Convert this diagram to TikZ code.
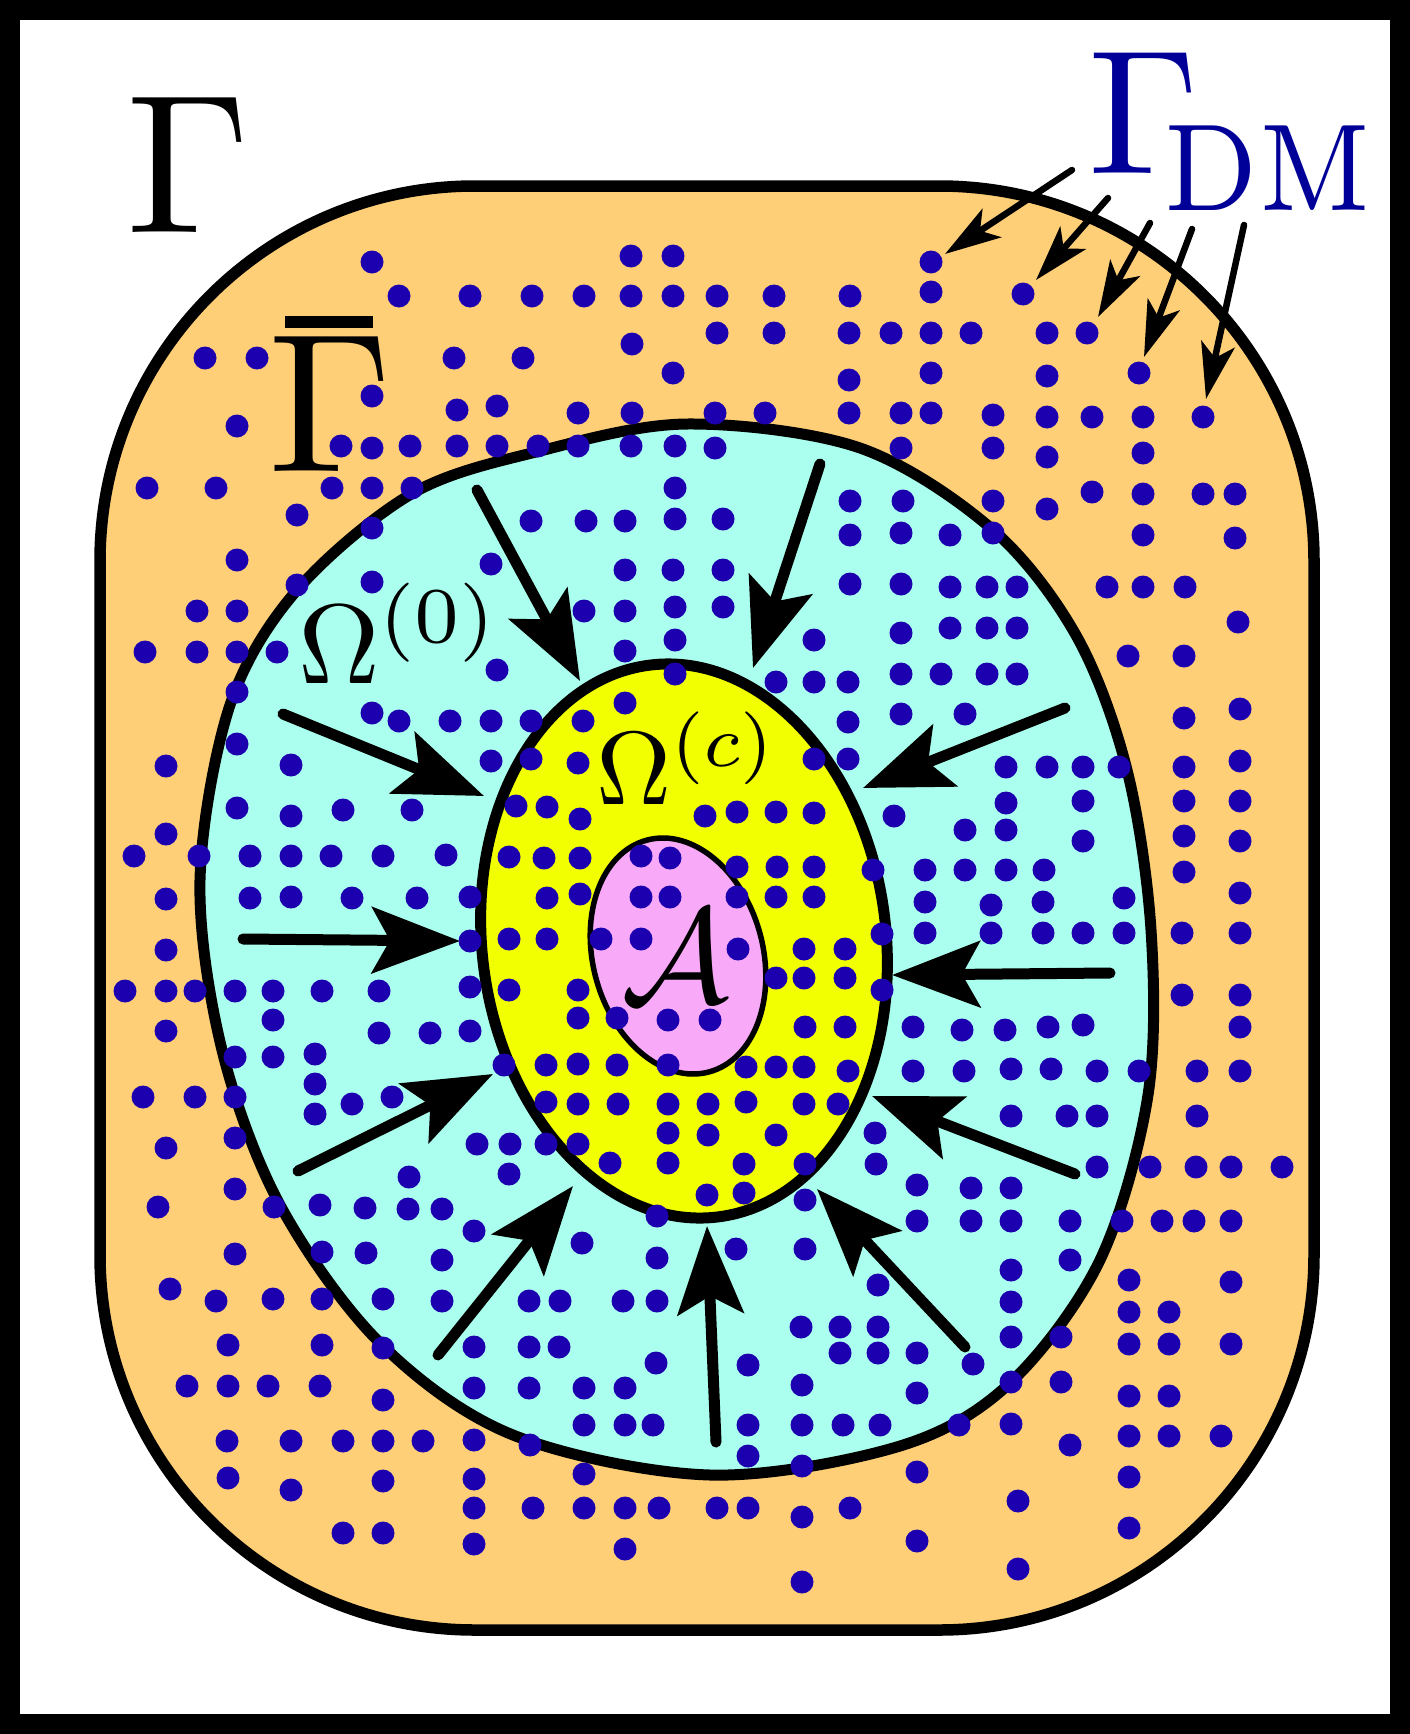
\documentclass[tikz,border=0pt]{standalone}
\usepackage{graphicx}
\usetikzlibrary{arrows.meta}
\definecolor{orangeF}{HTML}{FFCF77}
\definecolor{cyanF}{HTML}{ABFFEE}
\definecolor{yellowF}{HTML}{F2FF00}
\definecolor{pinkF}{HTML}{F8AAF8}
\definecolor{dotc}{HTML}{1C00B0}
\definecolor{dmblue}{HTML}{000099}
\begin{document}
\begin{tikzpicture}[x=1pt,y=-1pt,
  outline/.style={line width=11.5pt, draw=black},
  bigarrow/.style={line width=11pt, line cap=round, -{Stealth[length=88pt,width=66pt,inset=18pt]}},
  dmarrow/.style={line width=6.5pt, line cap=round, -{Stealth[length=56pt,width=34pt,inset=14pt]}},
  lab/.style={inner sep=0pt, outer sep=0pt}]
\useasboundingbox (0,0) rectangle (1410,1734);
\fill[black] (0,0) rectangle (1410,1734);
\fill[white] (20,20) rectangle (1390,1714);
% outer region
\draw[outline, fill=orangeF, rounded corners=375pt] (100,186) rectangle (1314,1630);
% Omega(0)
\draw[outline, line width=11pt, fill=cyanF] plot[smooth cycle, tension=0.55] coordinates {
 (687,424) (860,448) (993,530) (1077,637) (1127,770) (1151,930) (1148,1095)
 (1100,1260) (1010,1383) (900,1446) (710,1475) (513,1435) (380,1343) (280,1205)
 (222,1050) (200,880) (230,705) (297,590) (413,493) (540,451)};
% Omega(c)
\draw[outline, line width=11pt, fill=yellowF, rotate around={7:(684,941)}] (684,941) ellipse [x radius=202pt, y radius=278pt];
% A
\draw[line width=5.5pt, fill=pinkF, rotate around={15:(678,956)}] (678,956) ellipse [x radius=85pt, y radius=120pt];
% inward arrows
\foreach \sx/\sy/\tx/\ty [count=\i] in {477/490/580/681, 820/464/753/668, 1065/708/863/788,
   1110/973/892/975, 1075/1174/872/1096, 965/1347/817/1189, 716/1442/707/1226,
   438/1355/573/1186, 298/1171/493/1074, 243/939/460/941, 283/714/484/796}{
  \coordinate (as\i) at (\sx,\sy);
  \coordinate (at\i) at (\tx,\ty);
  \draw[bigarrow] (as\i) -- (at\i);
}
% Gamma_DM arrows
\foreach \sx/\sy/\tx/\ty [count=\i] in {1072/170/945/254, 1108/198/1036/280, 1150/223/1098/317,
   1192/229/1144/357, 1244/225/1206/399}{
  \coordinate (ds\i) at (\sx,\sy);
  \coordinate (dt\i) at (\tx,\ty);
  \draw[dmarrow] (ds\i) -- (dt\i);
}
% dots
\foreach \x/\y in {
372/262,399/296,205/358,257/358,454/358,372/396,457/410,237/426,341/446,372/448,410/446,457/446,147/488,216/488,332/488,372/488,412/488,297/515,372/528,237/560,
470/296,532/296,584/296,631/256,673/256,631/296,673/296,717/296,774/296,850/296,931/262,931/292,717/333,774/333,849/333,891/333,931/333,523/358,632/344,673/373,849/380,931/373,497/406,578/413,632/413,715/413,765/413,849/413,901/413,931/413,497/446,538/446,578/446,631/446,675/446,715/448,901/448,675/488,850/501,903/501,531/521,586/521,625/521,675/519,723/519,850/535,901/533,491/564,625/570,673/570,723/570,
1023/294,971/333,1047/333,1087/333,1047/376,1139/373,993/415,1047/417,1092/417,1143/417,1203/417,993/448,1047/457,1143/453,993/501,1047/509,1092/492,1143/494,1203/494,1235/494,950/535,993/533,1143/535,1235/538,
297/585,372/582,197/611,237/611,145/652,197/652,237/652,277/652,237/692,237/744,166/766,291/765,372/713,399/721,450/721,237/808,291/816,343/810,412/810,166/834,134/856,199/856,250/856,291/856,331/856,383/856,446/855,166/899,250/898,291/897,352/898,417/898,166/950,125/991,166/991,195/991,235/991,273/991,322/991,379/991,166/1031,273/1020,379/1033,430/1033,235/1057,273/1057,315/1054,315/1084,315/1114,352/1104,392/1097,143/1097,195/1097,235/1097,235/1138,166/1148,
584/611,625/611,675/607,723/607,850/584,901/584,625/651,675/640,497/670,675/674,776/682,814/640,814/682,848/682,901/633,901/674,941/674,625/703,491/721,531/721,583/721,848/722,901/714,491/761,531/759,578/763,814/759,848/759,516/806,547/807,580/819,705/816,737/812,776/812,814/813,894/816,509/857,544/858,580/858,641/856,670/858,737/867,777/867,814/867,873/870,925/870,470/897,547/898,580/894,641/897,670/897,737/897,776/897,814/897,925/902,470/941,509/939,547/939,601/939,641/939,738/949,804/949,845/949,882/934,925/933,470/987,509/990,578/990,776/978,804/978,845/978,882/990,470/1031,578/1018,617/1018,668/1020,710/1020,805/1027,845/1027,913/1027,504/1065,546/1065,578/1064,617/1065,668/1065,746/1067,776/1067,804/1067,848/1071,913/1071,546/1102,578/1104,618/1104,668/1104,708/1104,746/1102,804/1104,838/1104,875/1133,477/1144,510/1144,546/1144,578/1144,668/1133,708/1135,776/1135,
950/587,987/587,1017/587,1107/587,1143/587,1185/587,1238/622,950/628,987/628,1017/628,1128/656,1184/656,987/674,1017/674,965/714,1184/718,1240/709,1006/767,1047/767,1083/767,1119/767,1184/767,1240/761,1006/803,1083/801,1184/801,1240/801,965/830,1006/830,1083/841,1184/836,1240/841,965/870,1006/870,1044/870,1184/872,991/905,1043/902,1124/898,1240/893,991/933,1043/933,1083/933,1124/933,1182/933,1240/933,1182/995,1240/995,962/1030,1005/1030,1048/1027,1083/1025,1240/1027,964/1071,1011/1069,1051/1069,1097/1071,1139/1071,1197/1071,1240/1071,1011/1116,1067/1116,1097/1116,1197/1116,
235/1189,158/1207,274/1207,320/1205,365/1208,409/1177,408/1209,442/1209,235/1254,322/1252,366/1253,442/1260,170/1289,216/1301,273/1299,322/1299,383/1299,442/1301,228/1345,322/1345,383/1348,187/1386,228/1386,268/1386,320/1386,383/1400,227/1441,291/1441,343/1441,383/1441,423/1441,228/1478,291/1490,383/1481,343/1533,383/1533,
610/1163,668/1163,744/1164,805/1164,876/1164,509/1174,707/1195,744/1193,917/1185,917/1221,805/1200,657/1216,474/1231,582/1243,657/1258,736/1249,805/1249,878/1285,529/1301,560/1301,623/1301,657/1301,801/1327,840/1327,878/1327,474/1347,529/1347,559/1347,840/1353,878/1353,917/1353,656/1363,748/1365,474/1388,529/1388,584/1388,625/1388,802/1385,917/1393,584/1425,625/1425,653/1425,748/1425,802/1425,843/1425,880/1425,474/1440,530/1445,748/1456,802/1466,584/1474,917/1472,474/1479,474/1508,533/1508,584/1508,625/1508,659/1508,717/1508,748/1508,802/1517,850/1508,474/1544,625/1549,917/1541,802/1582,
1097/1167,1150/1167,1196/1167,1231/1167,1282/1167,971/1188,1011/1188,971/1221,1011/1221,1070/1221,1122/1221,1162/1221,1194/1221,1231/1221,1070/1260,1011/1270,1129/1280,1231/1282,1011/1302,1129/1312,1169/1312,1011/1337,1061/1337,1129/1344,1169/1344,1231/1344,973/1364,1011/1382,1061/1382,1129/1396,1169/1396,959/1425,1011/1424,1129/1436,1169/1436,1221/1436,1070/1445,1129/1477,1018/1501,1129/1528,1018/1569}
  \fill[dotc] (\x,\y) circle[radius=11.5pt];
% labels
\node[lab, anchor=base] (gam) at (188,232) {\scalebox{19.8}{$\Gamma$}};
\node[lab, anchor=base] (gbar) at (330,471) {\rlap{\hspace*{17pt}\raisebox{143pt}{\rule{88pt}{12pt}}}\scalebox{19.8}{$\Gamma$}};
\node[lab, anchor=base west] (om0) at (298,683) {\scalebox{11.3}{$\Omega^{(0)}$}};
\node[lab, anchor=base west] (omc) at (596,804) {\scalebox{10.4}{$\Omega^{(c)}$}};
\node[lab, anchor=base] (cala) at (675,1002) {\scalebox{13.5}{$\mathcal{A}$}};
\node[lab, anchor=base west, text=dmblue] (gdm) at (1088,173) {\scalebox{17.7}{$\Gamma_{\kern-2pt\lower0.62pt\hbox{\scalebox{0.89}[1]{$\scriptstyle\mathrm{DM}$}}}$}};
\end{tikzpicture}
\end{document}
